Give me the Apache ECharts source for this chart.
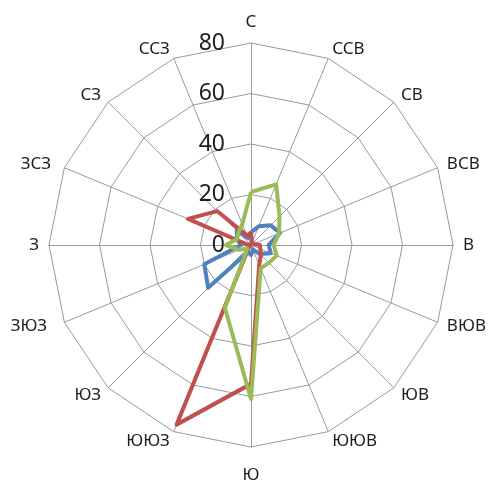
<!DOCTYPE html>
<html>
<head>
<meta charset="utf-8">
<script src="https://cdn.jsdelivr.net/npm/echarts@6/dist/echarts.min.js"></script>
<style>
html,body{margin:0;padding:0;background:#fff;}
#c{width:489px;height:484px;}
</style>
</head>
<body>
<div id="c"></div>
<script>
// Directions, clockwise from north (as in the picture)
const categories = ['С','ССВ','СВ','ВСВ','В','ВЮВ','ЮВ','ЮЮВ','Ю','ЮЮЗ','ЮЗ','ЗЮЗ','З','ЗСЗ','СЗ','ССЗ'];
const seriesBlue  = [5, 8, 11, 12.5, 7, 8.5, 5, 2, 4, 3, 24, 20, 4, 6, 8, 3];
const seriesRed   = [5, 1, 1, 1, 3.5, 4, 5.5, 8.5, 55, 77, 1, 0.5, 1, 27, 19, 4];
const seriesGreen = [21, 26, 16, 12, 9, 11, 10, 10, 61, 27, 2, 5, 10, 6, 7, 9];
const tickLabels = [0, 20, 40, 60, 80];
const axisMax = 80;

// ECharts lays radar indicators counter-clockwise; reorder to get clockwise
function ccw(arr){ return [arr[0]].concat(arr.slice(1).reverse()); }

const cats = ccw(categories);
const indicator = cats.map((n, i) => {
  const o = { name: n, min: 0, max: axisMax };
  if (i === 0) o.axisLabel = { show: true };
  return o;
});

// small per-label nudges of the name text
const nameStyleKey = { 'Ю': 'down', 'ЗЮЗ': 'farL', 'ЗСЗ': 'midL', 'С': 'up' };

const chart = echarts.init(document.getElementById('c'), null, {renderer: 'canvas'});
chart.setOption({
  animation: false,
  backgroundColor: '#fff',
  radar: {
    center: [251, 245],
    radius: 202,
    startAngle: 90,
    shape: 'polygon',
    splitNumber: 4,
    indicator: indicator,
    axisName: {
      color: '#1e1e1e',
      fontFamily: 'Noto Sans',
      fontSize: 17,
      formatter: function (name) {
        const k = nameStyleKey[name];
        return k ? '{' + k + '|' + name + '}' : name;
      },
      rich: {
        down: { fontFamily: 'Noto Sans', fontSize: 17, color: '#1e1e1e', padding: [10, 0, 0, 0] },
        farL: { fontFamily: 'Noto Sans', fontSize: 17, color: '#1e1e1e', padding: [0, 8, 0, 0] },
        midL: { fontFamily: 'Noto Sans', fontSize: 17, color: '#1e1e1e', padding: [0, 4, 0, 0] },
        up:   { fontFamily: 'Noto Sans', fontSize: 17, color: '#1e1e1e', padding: [0, 0, 2, 0] }
      }
    },
    nameGap: 10,
    axisLine: { lineStyle: { color: '#9a9a9a', width: 1 } },
    splitLine: { lineStyle: { color: '#9a9a9a', width: 1 } },
    splitArea: { show: false },
    axisTick: { show: false },
    axisLabel: {
      show: false,
      color: '#1e1e1e',
      fontFamily: 'Noto Sans',
      fontSize: 23,
      margin: 26,
      formatter: v => tickLabels.indexOf(v) >= 0 ? String(v) : ''
    }
  },
  series: [{
    type: 'radar',
    symbol: 'none',
    data: [
      { value: ccw(seriesBlue),  lineStyle: { color: '#4F81BD', width: 4, join: 'round' }, itemStyle: { color: '#4F81BD' } },
      { value: ccw(seriesRed),   lineStyle: { color: '#C0504D', width: 4, join: 'round' }, itemStyle: { color: '#C0504D' } },
      { value: ccw(seriesGreen), lineStyle: { color: '#9BBB59', width: 4, join: 'round' }, itemStyle: { color: '#9BBB59' } }
    ]
  }]
});
</script>
</body>
</html>
